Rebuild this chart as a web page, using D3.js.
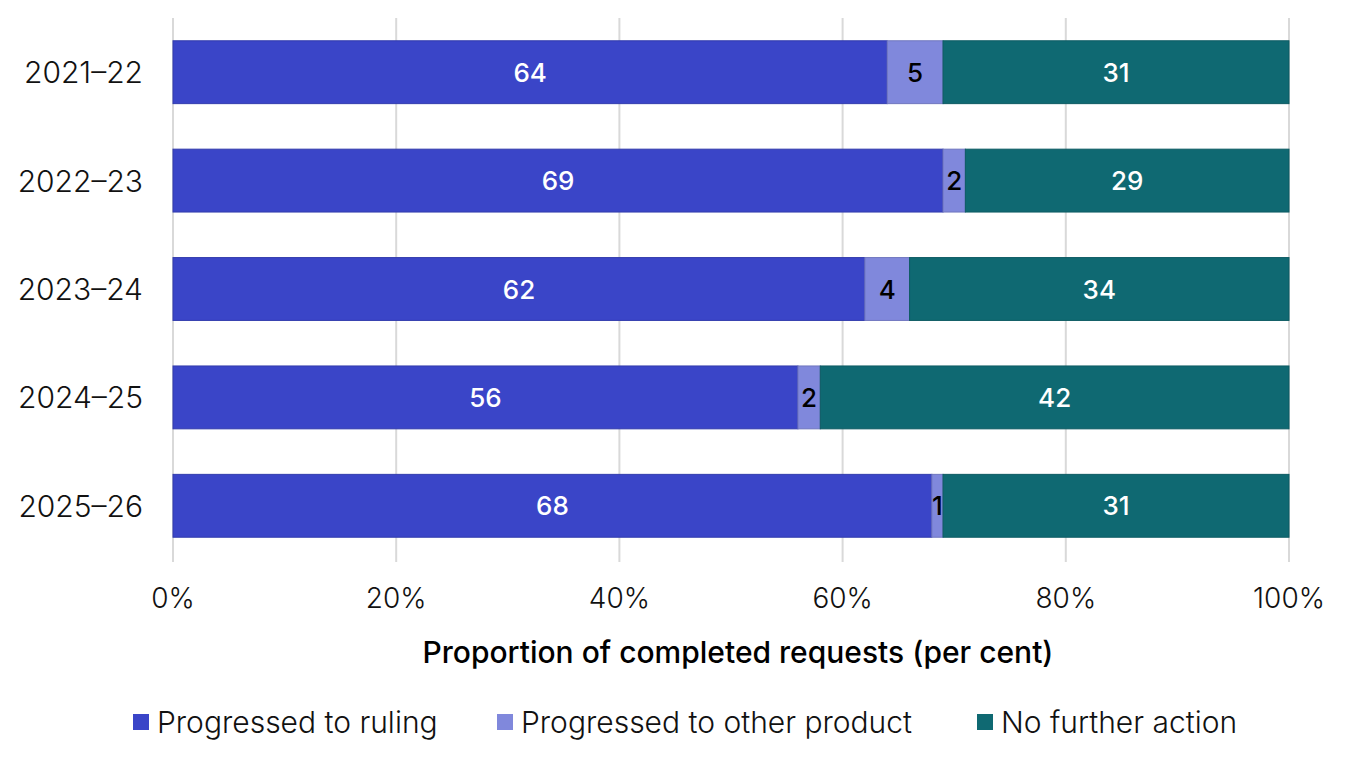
<!DOCTYPE html>
<html>
<head>
<meta charset="utf-8">
<script src="https://d3js.org/d3.v7.min.js"></script>
<style>
  body { margin: 0; background: #fff; }
  text { font-family: Inter, "Noto Sans", sans-serif; }
</style>
</head>
<body>
<div id="chart"></div>
<script>
// data
var years = ["2021\u201322", "2022\u201323", "2023\u201324", "2024\u201325", "2025\u201326"]
var ruling = [64, 69, 62, 56, 68]
var otherProduct = [5, 2, 4, 2, 1]
var noAction = [31, 29, 34, 42, 31]
var seriesNames = ["Progressed to ruling", "Progressed to other product", "No further action"]
var xTicks = [0, 20, 40, 60, 80, 100]

var colors = ["#3a45c8", "#8088dc", "#0f6972"]
var labelColors = ["#fff", "#000", "#fff"]

var W = 1360, H = 768
var svg = d3.select("#chart").append("svg").attr("width", W).attr("height", H)

var x = d3.scaleLinear().domain([0, 100]).range([173, 1289])
var y = d3.scaleBand().domain(years).range([18, 560]).paddingInner(0.42).paddingOuter(0.21)

// gridlines
svg.append("g").selectAll("line").data(xTicks).enter().append("line")
  .attr("x1", d => x(d)).attr("x2", d => x(d))
  .attr("y1", 18).attr("y2", 562)
  .attr("stroke", "#d9d9d9").attr("stroke-width", 2)

// stacked rows
var rows = years.map(function (yr, i) {
  return { year: yr, vals: [ruling[i], otherProduct[i], noAction[i]] }
})

rows.forEach(function (r) {
  var start = 0
  r.vals.forEach(function (v, k) {
    var g = svg.append("g")
    g.append("rect")
      .attr("x", x(start)).attr("y", y(r.year))
      .attr("width", x(start + v) - x(start)).attr("height", y.bandwidth())
      .attr("fill", colors[k])
      .attr("stroke", d3.color(colors[k]).darker(0.4)).attr("stroke-width", 1)
    g.append("text")
      .attr("x", x(start + v / 2)).attr("y", y(r.year) + y.bandwidth() / 2)
      .attr("text-anchor", "middle").attr("dominant-baseline", "central")
      .attr("font-size", 26).attr("font-weight", 500).attr("fill", labelColors[k])
      .text(v)
    start += v
  })
})

// y labels
svg.append("g").selectAll("text").data(years).enter().append("text")
  .attr("x", 143).attr("y", d => y(d) + y.bandwidth() / 2)
  .attr("text-anchor", "end").attr("dominant-baseline", "central")
  .attr("font-size", 30).attr("font-weight", 300).attr("fill", "#111")
  .text(d => d)

// x tick labels
svg.append("g").selectAll("text").data(xTicks).enter().append("text")
  .attr("x", d => x(d)).attr("y", 598)
  .attr("text-anchor", "middle").attr("dominant-baseline", "central")
  .attr("font-size", 28).attr("font-weight", 300).attr("fill", "#111")
  .text(d => d + "%")

// axis title
svg.append("text")
  .attr("x", x(50) + 7).attr("y", 652)
  .attr("text-anchor", "middle").attr("dominant-baseline", "central")
  .attr("font-size", 30).attr("font-weight", 500).attr("fill", "#000")
  .text("Proportion of completed requests (per cent)")

// legend
var legX = [133, 497, 977]
var leg = svg.append("g").selectAll("g").data(seriesNames).enter().append("g")
  .attr("transform", (d, i) => "translate(" + legX[i] + ",722)")
leg.append("rect").attr("x", 0).attr("y", -8).attr("width", 16).attr("height", 16)
  .attr("fill", (d, i) => colors[i])
leg.append("text").attr("x", 24).attr("y", 0)
  .attr("dominant-baseline", "central").attr("font-size", 30).attr("font-weight", 300).attr("fill", "#111")
  .text(d => d)
</script>
</body>
</html>
